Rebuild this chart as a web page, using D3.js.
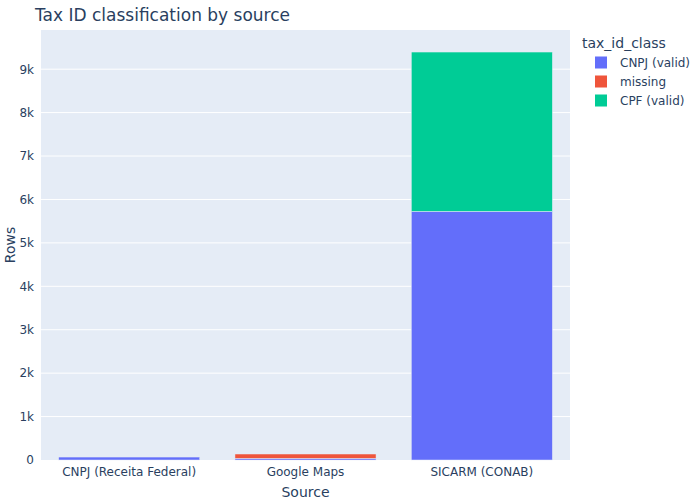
<!DOCTYPE html>
<html><head><meta charset="utf-8">
<script src="https://cdn.jsdelivr.net/npm/d3@7"></script>
<style>body{margin:0;background:#fff}svg, svg text{font-family:"DejaVu Sans",verdana,arial,sans-serif}</style>
</head><body><svg id="c" width="700" height="500"></svg>
<script>
const sources = ["CNPJ (Receita Federal)", "Google Maps", "SICARM (CONAB)"];
const classes = ["CNPJ (valid)", "missing", "CPF (valid)"];
const colors = ["#636efa", "#EF553B", "#00cc96"];
const cnpjValid = [68, 38, 5725];
const missing = [0, 100, 0];
const cpfValid = [0, 0, 3670];
const yTicks = [0, 1000, 2000, 3000, 4000, 5000, 6000, 7000, 8000, 9000];
const yTickLabels = ["0", "1k", "2k", "3k", "4k", "5k", "6k", "7k", "8k", "9k"];

const series = [cnpjValid, missing, cpfValid];
const data = sources.map((s, i) => {
  const o = {source: s};
  classes.forEach((c, j) => o[c] = series[j][i]);
  return o;
});
const stack = d3.stack().keys(classes)(data);
const total = d3.max(data, d => d3.sum(classes, c => d[c]));

const FONT = '"DejaVu Sans",verdana,arial,sans-serif';
const svg = d3.select("#c");
const m = {l: 41, r: 130, t: 30, b: 40};
const W = 700, H = 500;
const x = d3.scaleBand().domain(sources).range([m.l, W - m.r]).paddingInner(0.2).paddingOuter(0.1);
const y = d3.scaleLinear().domain([0, total * 1.054]).range([H - m.b, m.t]);
const textCol = "#2a3f5f";

svg.append("rect").attr("x", m.l).attr("y", m.t).attr("width", W - m.r - m.l).attr("height", H - m.b - m.t).attr("fill", "#E5ECF6");

// grid
svg.append("g").selectAll("line").data(yTicks.filter(t => t > 0)).join("line")
  .attr("x1", m.l).attr("x2", W - m.r)
  .attr("y1", d => y(d)).attr("y2", d => y(d))
  .attr("stroke", "#fff").attr("stroke-width", 1);

// bars
svg.append("g").selectAll("g").data(stack).join("g")
  .attr("fill", (d, i) => colors[i])
  .selectAll("rect").data(d => d).join("rect")
  .attr("x", d => x(d.data.source))
  .attr("width", x.bandwidth())
  .attr("y", d => y(d[1]))
  .attr("height", d => Math.max(0, y(d[0]) - y(d[1])))
  .attr("stroke", "#E5ECF6").attr("stroke-width", d => (y(d[0]) - y(d[1])) > 0 ? 0.5 : 0);

// y axis
const ya = d3.axisLeft(y).tickValues(yTicks).tickFormat((d, i) => yTickLabels[i]).tickSize(0).tickPadding(6);
const gy = svg.append("g").attr("transform", `translate(${m.l},0)`).call(ya).attr("font-family", FONT);
gy.select(".domain").remove();
gy.selectAll("text").attr("fill", textCol).style("font-size", "12px").attr("dx", "-1");

// x axis
const xa = d3.axisBottom(x).tickSize(0).tickPadding(7);
const gx = svg.append("g").attr("transform", `translate(0,${H - m.b})`).call(xa).attr("font-family", FONT);
gx.select(".domain").remove();
gx.selectAll("text").attr("fill", textCol).style("font-size", "12px");

// titles
svg.append("text").attr("x", 35).attr("y", 16).attr("fill", textCol).style("font-size", "17px").attr("dominant-baseline", "middle").text("Tax ID classification by source");
svg.append("text").attr("x", (m.l + W - m.r) / 2).attr("y", 497).attr("text-anchor", "middle").attr("fill", textCol).style("font-size", "14px").text("Source");
svg.append("text").attr("transform", `translate(15,${(m.t + H - m.b) / 2}) rotate(-90)`).attr("text-anchor", "middle").attr("fill", textCol).style("font-size", "14px").text("Rows");

// legend
const lg = svg.append("g");
lg.append("text").attr("x", 582).attr("y", 48).attr("fill", textCol).style("font-size", "14px").text("tax_id_class");
classes.forEach((c, i) => {
  const cy = 62.5 + i * 19;
  lg.append("rect").attr("x", 595).attr("y", cy - 6).attr("width", 12).attr("height", 12).attr("fill", colors[i]);
  lg.append("text").attr("x", 620).attr("y", cy).attr("dominant-baseline", "central").attr("fill", textCol).style("font-size", "12px").text(c);
});
</script></body></html>
